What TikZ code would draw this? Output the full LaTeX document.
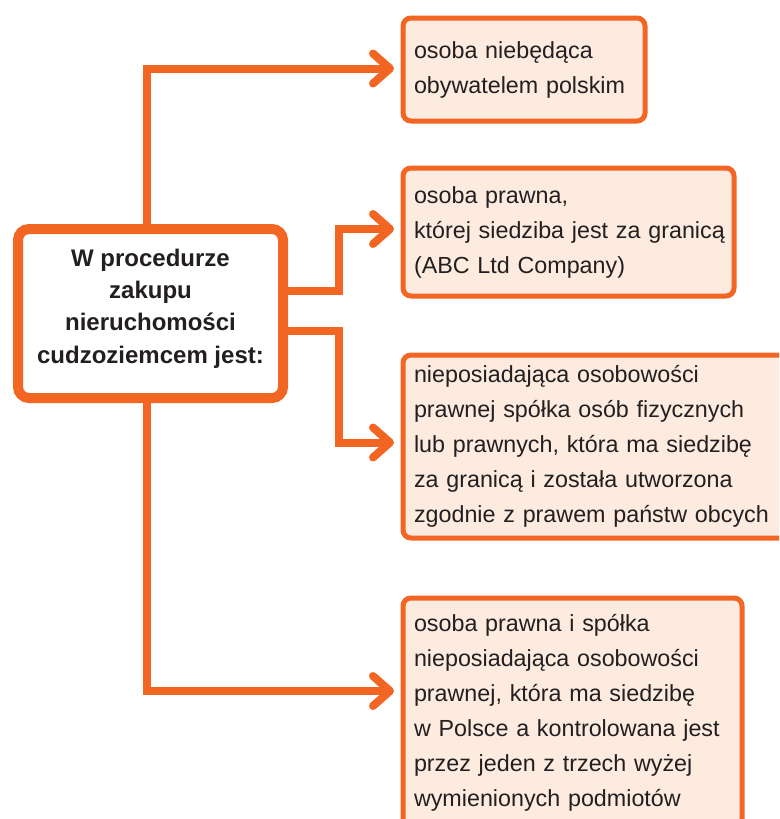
\documentclass[tikz,border=0pt]{standalone}
\usepackage{fontspec}
\setmainfont{Liberation Sans}
\usetikzlibrary{arrows.meta}
\definecolor{org}{HTML}{F26522}
\definecolor{peach}{HTML}{FDEBE0}
\definecolor{ink}{HTML}{231F20}
\begin{document}
\begin{tikzpicture}[x=1pt,y=-1pt,
  box/.style={draw=org, line width=5pt, fill=peach, rounded corners=8pt,
    anchor=north west, align=left, inner xsep=11pt, inner ysep=0pt,
    text=ink, font=\fontsize{23.3}{35}\selectfont},
  mainbox/.style={draw=org, line width=10pt, fill=white, rounded corners=11pt,
    anchor=north west, align=center, inner sep=0pt, text=ink,
    font=\bfseries\fontsize{24}{32.3}\selectfont,
    minimum width=265pt, minimum height=169pt},
  conn/.style={draw=org, line width=8pt, line join=miter,
    -{Straight Barb[length=17pt,width=30pt,round]}}
]
\useasboundingbox (0,0) rectangle (779,819);
\clip (0,0) rectangle (779,819);

\node[mainbox] (main) at (13,224) {W procedurze\\zakupu\\nieruchomości\\cudzoziemcem jest:\\[-17pt]};

\node[box, minimum width=242pt, minimum height=103pt, text width=220pt] (b1) at (400.5,15.5)
  {osoba niebędąca\\obywatelem polskim};
\node[box, minimum width=331pt, minimum height=128pt, text width=309pt] (b2) at (400.5,165.5)
  {osoba prawna,\\\mbox{której siedziba jest za granicą}\\(ABC Ltd Company)};
\node[box, minimum width=392pt, minimum height=183pt, text width=370pt] (b3) at (400.5,352.5)
  {nieposiadająca osobowości\\prawnej spółka osób fizycznych\\lub prawnych, która ma siedzibę\\za granicą i została utworzona\\zgodnie z prawem państw obcych};
\node[box, minimum width=339pt, minimum height=229pt, text width=317pt] (b4) at (400.5,595.5)
  {osoba prawna i spółka\\nieposiadająca osobowości\\prawnej, która ma siedzibę\\w Polsce a kontrolowana jest\\przez jeden z trzech wyżej\\wymienionych podmiotów};

\coordinate (v1) at (147,0);
\coordinate (v2) at (339,0);
\coordinate (e1) at ([xshift=-6.5pt,yshift=1pt]b1.west);
\coordinate (e2) at ([xshift=-6.5pt,yshift=3pt]b2.west);
\coordinate (e3) at ([xshift=-6.5pt,yshift=4pt]b3.west);
\coordinate (e4) at ([xshift=-6.5pt,yshift=-95.5pt]b4.north west);

\draw[conn] (main.north -| v1) |- (e1);
\draw[conn] ([yshift=22.5pt]main.east) -| (v2 |- e2) -- (e2);
\draw[conn] ([yshift=-17.5pt]main.east) -| (v2 |- e3) -- (e3);
\draw[conn] (main.south -| v1) |- (e4);
\end{tikzpicture}
\end{document}
